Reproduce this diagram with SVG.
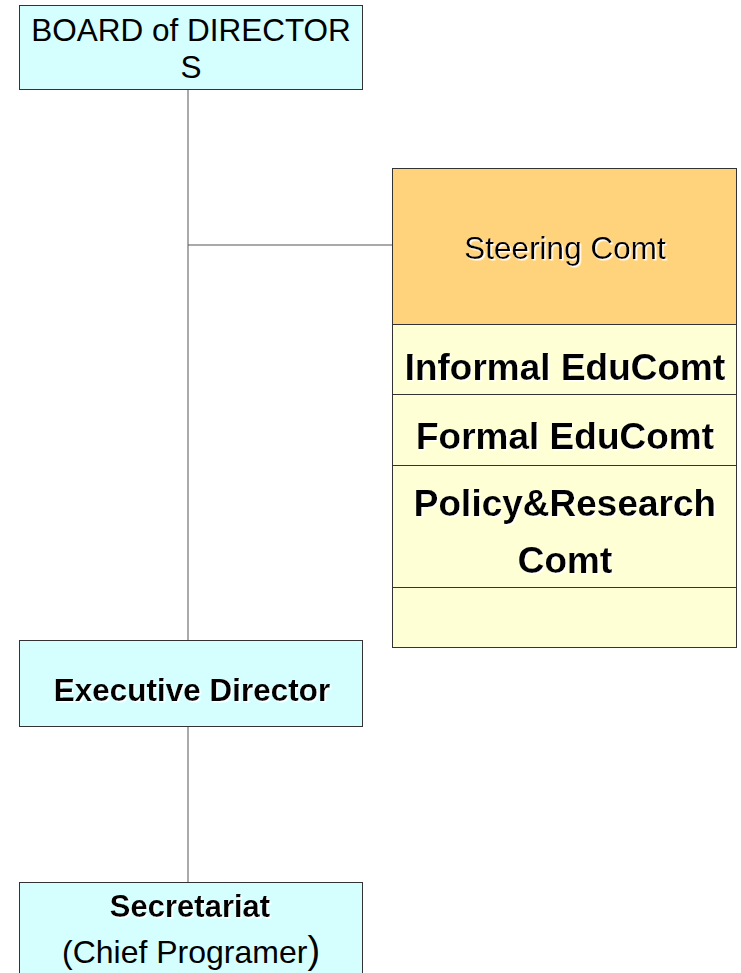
<svg xmlns="http://www.w3.org/2000/svg" width="741" height="973" viewBox="0 0 741 973">
<defs>
<filter id="glow" x="-10%" y="-30%" width="120%" height="160%">
<feDropShadow dx="1.5" dy="1.5" stdDeviation="0.6" flood-color="#ffffff" flood-opacity="1"/>
</filter>
<style>
.box{stroke:#333;stroke-width:1}
.cyan{fill:#D5FFFF}
.orange{fill:#FFD37B}
.yellow{fill:#FFFFD5}
.conn{stroke:#555;stroke-width:1;fill:none}
.t{font-family:"Liberation Sans",Arial,sans-serif;fill:#000;text-anchor:middle}
.b{font-weight:bold}
.sh{filter:url(#glow)}
</style>
</defs>
<rect width="741" height="973" fill="#fff"/>
<g id="connectors">
<line class="conn" x1="188" y1="90" x2="188" y2="640"/>
<line class="conn" x1="188" y1="245" x2="393" y2="245"/>
<line class="conn" x1="188" y1="727" x2="188" y2="882"/>
</g>
<g id="board">
<rect class="box cyan" x="19.5" y="5.5" width="343" height="84"/>
<text class="t" x="191" y="41" font-size="31.5">BOARD of DIRECTOR</text>
<text class="t" x="191" y="78" font-size="31.5">S</text>
</g>
<g id="steering">
<rect class="box orange" x="392.5" y="168.5" width="344" height="156"/>
<text class="t sh" x="565" y="259" font-size="31.5">Steering Comt</text>
</g>
<g id="committees">
<rect class="box yellow" x="392.5" y="324.5" width="344" height="323"/>
<line class="box" x1="392.5" y1="394.5" x2="736.5" y2="394.5"/>
<line class="box" x1="392.5" y1="465.5" x2="736.5" y2="465.5"/>
<line class="box" x1="392.5" y1="587.5" x2="736.5" y2="587.5"/>
</g>
<g id="informal">
<text class="t b sh" x="565" y="380" font-size="37">Informal EduComt</text>
</g>
<g id="formal">
<text class="t b sh" x="565" y="449" font-size="37">Formal EduComt</text>
</g>
<g id="policy">
<text class="t b sh" x="565" y="516" font-size="37">Policy&amp;Research</text>
<text class="t b sh" x="565" y="573" font-size="37">Comt</text>
</g>
<g id="executive">
<rect class="box cyan" x="19.5" y="640.5" width="343" height="86"/>
<text class="t b sh" x="192" y="701" font-size="31.5">Executive Director</text>
</g>
<g id="secretariat">
<rect class="box cyan" x="19.5" y="882.5" width="343" height="100"/>
<text class="t b sh" x="190" y="917" font-size="31">Secretariat</text>
<text class="t" x="191" y="963" font-size="32">(Chief Programer<tspan font-size="38">)</tspan></text>
</g>
</svg>
